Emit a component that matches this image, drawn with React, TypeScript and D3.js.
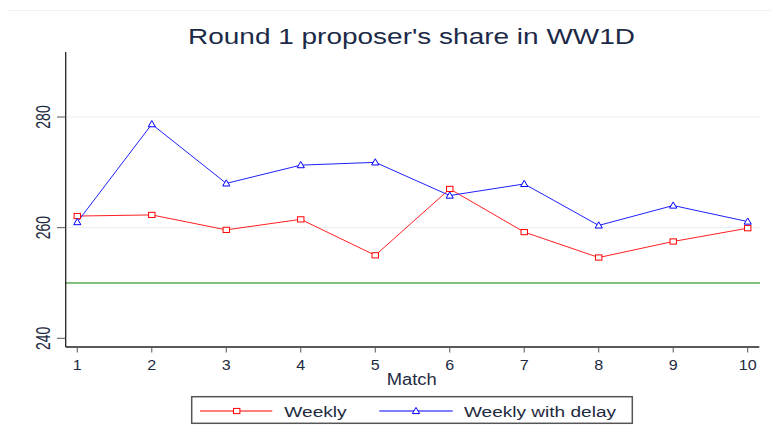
import React from "react";
import * as d3 from "d3";

const matches = [1, 2, 3, 4, 5, 6, 7, 8, 9, 10];
const weekly = [262.1, 262.3, 259.6, 261.5, 255.0, 267.0, 259.2, 254.6, 257.5, 259.9];
const weeklyDelay = [261.0, 278.7, 268.0, 271.3, 271.8, 265.8, 267.9, 260.4, 264.0, 261.1];
const yTicks = [240, 260, 280];
const gridTicks = [260, 280];
const referenceLine = 250;
const seriesNames = ["Weekly", "Weekly with delay"];
const title = "Round 1 proposer's share in WW1D";
const xTitle = "Match";

const W = 771;
const H = 438;
const plotLeft = 65.7;
const plotRight = 760;
const plotTop = 52;
const plotBottom = 347;
const FONT = "'Liberation Sans', Arial, Helvetica, sans-serif";

export default function App() {
  const x = d3.scaleLinear().domain([1, 10]).range([77.3, 747.7]);
  const y = d3.scaleLinear().domain([240, 280]).range([338.3, 117]);
  const line = d3
    .line<number>()
    .x((_, i) => x(matches[i]))
    .y((d) => y(d));

  const square = (cx: number, cy: number, color: string, key: string) => (
    <rect key={key} x={cx - 3.2} y={cy - 2.6} width={6.4} height={5.2} fill="white" stroke={color} strokeWidth={1} />
  );
  const tri = (cx: number, cy: number, color: string, key: string) => (
    <path
      key={key}
      d={`M${cx},${cy - 3.6}L${cx + 3.6},${cy + 2.6}L${cx - 3.6},${cy + 2.6}Z`}
      fill="white"
      stroke={color}
      strokeWidth={1}
    />
  );

  return (
    <svg
      width={W}
      height={H}
      style={{ position: "absolute", left: 0, top: 0, background: "white", fontFamily: FONT }}
    >
      <rect x={0} y={0} width={W} height={H} fill="white" />
      <line x1={8} x2={W} y1={10.5} y2={10.5} stroke="#eef2f2" strokeWidth={1} />
      <text
        x={188}
        y={44}
        fontSize={22}
        fill="#1c2a48"
        textLength={447}
        lengthAdjust="spacingAndGlyphs"
      >
        {title}
      </text>

      {gridTicks.map((t) => (
        <line key={"g" + t} x1={plotLeft} x2={plotRight} y1={y(t)} y2={y(t)} stroke="#e6efef" strokeWidth={1} />
      ))}
      <line
        x1={plotLeft}
        x2={plotRight}
        y1={y(referenceLine)}
        y2={y(referenceLine)}
        stroke="#7fbf7f"
        strokeWidth={2}
      />

      {/* y axis */}
      <line x1={plotLeft} x2={plotLeft} y1={plotTop} y2={plotBottom} stroke="#222" strokeWidth={1.3} />
      {yTicks.map((t) => (
        <g key={"y" + t}>
          <line x1={57} x2={plotLeft} y1={y(t)} y2={y(t)} stroke="#555" strokeWidth={1} />
          <text
            transform={`translate(50,${y(t)}) scale(1.4,1) rotate(-90)`}
            textAnchor="middle"
            fontSize={14}
            fill="#1e2a40"
          >
            {t}
          </text>
        </g>
      ))}

      {/* x axis */}
      <line x1={plotLeft} x2={759.3} y1={plotBottom} y2={plotBottom} stroke="#222" strokeWidth={1.3} />
      {matches.map((m) => (
        <g key={"x" + m}>
          <line x1={x(m)} x2={x(m)} y1={plotBottom} y2={352.5} stroke="#555" strokeWidth={1} />
          <text
            transform={`translate(${x(m)},369.5) scale(1.15,1)`}
            textAnchor="middle"
            fontSize={14}
            fill="#1e2a40"
          >
            {m}
          </text>
        </g>
      ))}
      <text x={386.7} y={385} fontSize={16} fill="#1e2a40" textLength={50} lengthAdjust="spacingAndGlyphs">
        {xTitle}
      </text>

      {/* series */}
      <path d={line(weekly) || ""} fill="none" stroke="#ff2020" strokeWidth={1} />
      <path d={line(weeklyDelay) || ""} fill="none" stroke="#2020ff" strokeWidth={1} />
      {weekly.map((v, i) => square(x(matches[i]), y(v), "#ff0000", "s" + i))}
      {weeklyDelay.map((v, i) => tri(x(matches[i]), y(v), "#0000ff", "t" + i))}

      {/* legend */}
      <rect x={191.7} y={396.7} width={440.6} height={26.6} fill="white" stroke="#555" strokeWidth={1.5} />
      <line x1={200} x2={272.3} y1={411} y2={411} stroke="#ff0000" strokeWidth={1} />
      {square(236.7, 411, "#ff0000", "ls")}
      <text x={284.3} y={416.5} fontSize={15.5} fill="#1e2a40" textLength={62.4} lengthAdjust="spacingAndGlyphs">
        {seriesNames[0]}
      </text>
      <line x1={379.3} x2={452.7} y1={411} y2={411} stroke="#0000ff" strokeWidth={1} />
      {tri(416, 411, "#0000ff", "lt")}
      <text x={464} y={416.5} fontSize={15.5} fill="#1e2a40" textLength={152} lengthAdjust="spacingAndGlyphs">
        {seriesNames[1]}
      </text>
    </svg>
  );
}
